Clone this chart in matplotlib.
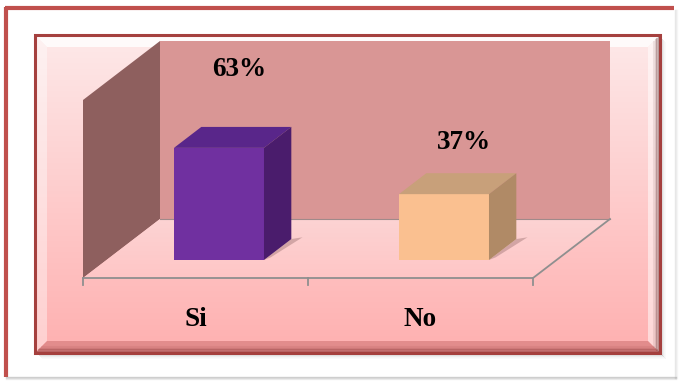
import numpy as np
import matplotlib
matplotlib.use("Agg")
import matplotlib.pyplot as plt
from matplotlib.patches import Polygon, Rectangle
from matplotlib.colors import to_rgb

# ---------------- data ----------------
categories = ["Si", "No"]
values = [63, 37]
value_labels = ["63%", "37%"]
y_max = 100

# ---------------- styles ----------------
W, H = 679, 381
fig = plt.figure(figsize=(W / 100, H / 100), dpi=100)
fig.patch.set_facecolor("white")

# decoration axes in pixel coordinates
bg = fig.add_axes([0, 0, 1, 1])
bg.set_xlim(0, W)
bg.set_ylim(H, 0)
bg.axis("off")


def vgrad(ax, x0, x1, y0, y1, c0, c1, clip=None, zorder=0, alpha=1.0):
    n = 256
    a = np.array(to_rgb(c0))
    b = np.array(to_rgb(c1))
    t = np.linspace(0, 1, n)[:, None]
    img = (a * (1 - t) + b * t)[:, None, :]
    im = ax.imshow(img, extent=(x0, x1, y1, y0), origin="upper", aspect="auto",
                   zorder=zorder, alpha=alpha, interpolation="bilinear")
    if clip is not None:
        im.set_clip_path(clip)
    return im


# outer frame
bg.add_patch(Rectangle((6, 8), 668, 369, facecolor="white", edgecolor="none", zorder=0))
bg.plot([5, 674], [8, 8], color="#C0504D", lw=3, zorder=1, solid_capstyle="butt")
bg.plot([6, 6], [7, 377], color="#C0504D", lw=3, zorder=1, solid_capstyle="butt")
for i, a in enumerate([0.35, 0.22, 0.12]):
    bg.plot([6, 676], [377 + i, 377 + i], color="#808080", lw=1, alpha=a, zorder=1)
    bg.plot([675 + i, 675 + i], [10, 378], color="#a0a0a0", lw=1, alpha=a * 0.6, zorder=1)

# inner panel shadow
for i, a in enumerate([0.30, 0.20, 0.12, 0.06, 0.03]):
    bg.add_patch(Rectangle((38 + i, 354 + i), 624, 1.2, color="#6e6e6e", alpha=a, lw=0, zorder=1))
    bg.add_patch(Rectangle((661 + i, 38 + i), 1.2, 317, color="#6e6e6e", alpha=a, lw=0, zorder=1))

# inner panel body
px0, px1, py0, py1 = 35, 660, 35, 353
bv = 12
vgrad(bg, px0, px1, py0, py1, "#FDE9E9", "#FFB0B0", zorder=2)
# bevels
top = Polygon([(px0, py0), (px1, py0), (px1 - bv, py0 + bv), (px0 + bv, py0 + bv)],
              closed=True, facecolor="white", alpha=0.8, lw=0, zorder=3)
left = Polygon([(px0, py0), (px0 + bv, py0 + bv), (px0 + bv, py1 - bv), (px0, py1)],
               closed=True, facecolor="white", alpha=0.4, lw=0, zorder=3)
right = Polygon([(px1, py0), (px1, py1), (px1 - bv, py1 - bv), (px1 - bv, py0 + bv)],
                closed=True, facecolor="white", alpha=0.5, lw=0, zorder=3)
bottom = Polygon([(px0, py1), (px1, py1), (px1 - bv, py1 - bv), (px0 + bv, py1 - bv)],
                 closed=True, facecolor="#B04848", alpha=0.35, lw=0, zorder=3)
for p in (top, left, right, bottom):
    bg.add_patch(p)
# right / bottom bevel dark outer shading
for i, a in enumerate([0.45, 0.32, 0.2, 0.1]):
    bg.plot([px1 - 1.5 - i * 1.5] * 2, [py0 + 2 + i * 1.5, py1 - 2 - i * 1.5], color="#6a3a3a",
            lw=1.5, alpha=a, zorder=4)
    bg.plot([px0 + 2 + i * 1.5, px1 - 2 - i * 1.5], [py1 - 1.5 - i * 1.5] * 2, color="#8a3a3a",
            lw=1.5, alpha=a, zorder=4)
bg.add_patch(Rectangle((px0, py0), px1 - px0, py1 - py0, fill=False, edgecolor="#A5403E", lw=2.2, zorder=5))

# ---------------- chart axes (data coordinates) ----------------
x_left_px, cat_px = 83, 225.0
y_base_px, unit_px = 278, 1.78
ax = fig.add_axes([0, 0, 1, 1])
ax.set_xlim(-x_left_px / cat_px, (W - x_left_px) / cat_px)
ax.set_ylim((y_base_px - H) / unit_px, y_base_px / unit_px)
ax.axis("off")
ax.patch.set_alpha(0)

n = len(categories)
dx, dy = 77 / cat_px, 59 / unit_px        # full depth offset
f0, f1 = 0.305, 0.66                       # bar depth range (fractions)
bar_w = 0.4

# side wall
ax.add_patch(Polygon([(0, 0), (dx, dy), (dx, dy + y_max), (0, y_max)], closed=True,
                     facecolor="#8E5F5E", edgecolor="none", zorder=6))
# back wall
ax.add_patch(Polygon([(dx, dy), (n + dx, dy), (n + dx, dy + y_max), (dx, dy + y_max)], closed=True,
                     facecolor="#D99695", edgecolor="none", zorder=6))
# floor
floor = Polygon([(0, 0), (n, 0), (n + dx, dy), (dx, dy)], closed=True, facecolor="none",
                edgecolor="none", zorder=6)
ax.add_patch(floor)
vgrad(ax, 0, n + dx, dy, 0, "#FCD3D3", "#FFC6C6", clip=floor, zorder=6)
ax.plot([dx, n + dx], [dy, dy], color="#a08a8a", lw=0.8, zorder=7)
ax.plot([0, n, n + dx], [0, 0, dy], color="#8f8f8f", lw=1.3, zorder=7)
for k in range(n + 1):
    ax.plot([k, k], [0, -4], color="#8f8f8f", lw=1.3, zorder=7)

bar_colors = [("#7030A0", "#59268A", "#4A1C6C"), ("#FAC090", "#C8A07A", "#B08A66")]
label_lift = [32, 17]
label_dx = 0.027
for i, (cat, v) in enumerate(zip(categories, values)):
    c = i + 0.5
    xl, xr = c - bar_w / 2, c + bar_w / 2
    bx0, by0 = f0 * dx, f0 * dy
    bx1, by1 = f1 * dx, f1 * dy
    front_c, top_c, side_c = bar_colors[i]
    # shadow
    ax.add_patch(Polygon([(xr + bx0, by0), (xr + bx0 + 0.03, by0 + 1.5), (xr + bx1 + 0.05, by1 + 1),
                          (xr + bx1, by1)], closed=True, facecolor="#9e7474", alpha=0.45,
                         edgecolor="none", zorder=8))
    ax.add_patch(Polygon([(xl + bx0, by0), (xr + bx0, by0), (xr + bx0, by0 + v), (xl + bx0, by0 + v)],
                         closed=True, facecolor=front_c, edgecolor="none", zorder=10))
    ax.add_patch(Polygon([(xl + bx0, by0 + v), (xr + bx0, by0 + v), (xr + bx1, by1 + v), (xl + bx1, by1 + v)],
                         closed=True, facecolor=top_c, edgecolor="none", zorder=10))
    ax.add_patch(Polygon([(xr + bx0, by0), (xr + bx1, by1), (xr + bx1, by1 + v), (xr + bx0, by0 + v)],
                         closed=True, facecolor=side_c, edgecolor="none", zorder=10))
    # value label
    ax.text(c + (f0 + f1) / 2 * dx + label_dx, by1 + v + label_lift[i], value_labels[i],
            ha="center", va="center", fontsize=19.5, fontweight="bold",
            family="Liberation Serif", color="black", zorder=12)
    # category label
    ax.text(c, -23.5, cat, ha="center", va="center", fontsize=19.5, fontweight="bold",
            family="Liberation Serif", color="black", zorder=12)

fig.savefig("out.png", dpi=100)
